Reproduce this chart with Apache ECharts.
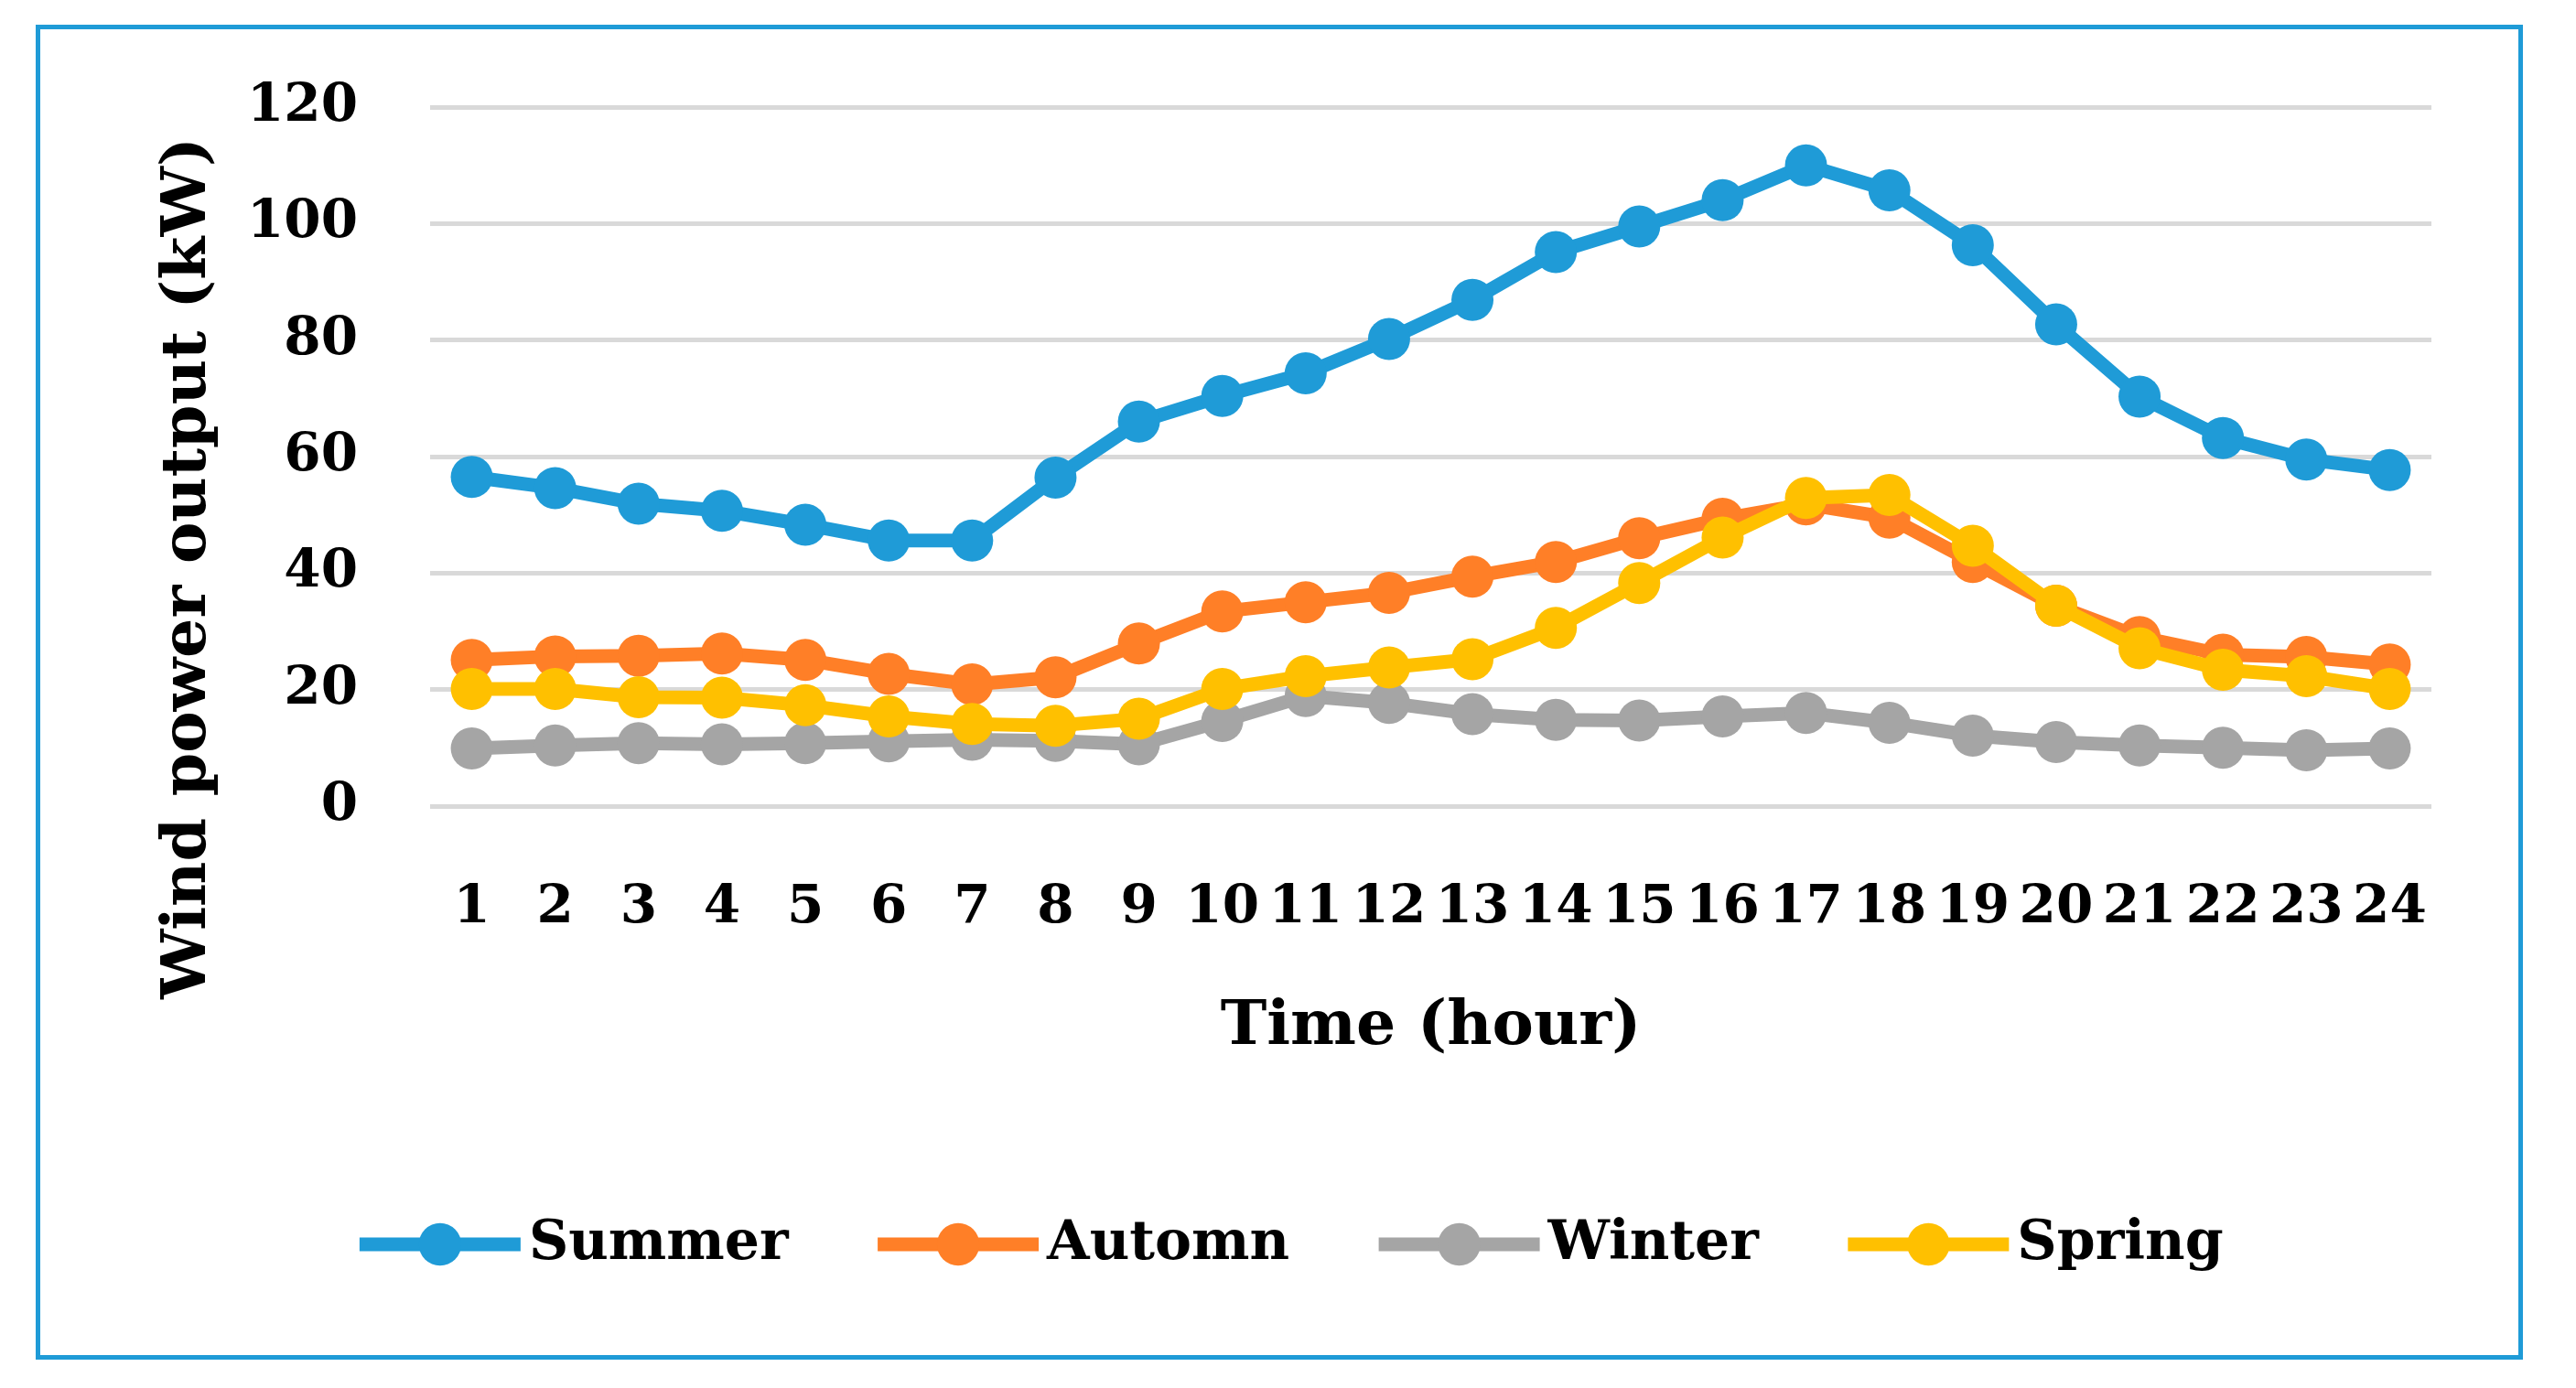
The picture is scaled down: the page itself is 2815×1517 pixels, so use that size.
<!DOCTYPE html>
<html>
<head>
<meta charset="utf-8">
<script src="https://cdn.jsdelivr.net/npm/echarts@6/dist/echarts.min.js"></script>
<style>
html,body{margin:0;padding:0;background:#fff;}
#chart{width:2815px;height:1517px;}
</style>
</head>
<body>
<div id="chart"></div>
<script>
const hours = ['1','2','3','4','5','6','7','8','9','10','11','12','13','14','15','16','17','18','19','20','21','22','23','24'];
const summer = [56.5,54.6,51.9,50.7,48.3,45.6,45.6,56.4,66.0,70.4,74.3,80.2,86.9,95.1,99.5,104.0,110.0,105.7,96.3,82.7,70.3,63.2,59.5,57.7];
const automn = [25.1,25.7,25.8,26.2,25.1,22.7,20.9,22.1,27.9,33.4,35.0,36.6,39.4,41.9,46.0,49.3,51.8,49.5,41.9,34.4,29.0,26.0,25.6,24.3];
const winter = [9.9,10.4,10.8,10.6,10.8,11.1,11.4,11.2,10.6,14.6,18.9,17.7,15.8,14.8,14.7,15.4,16.0,14.3,12.1,11.0,10.4,10.0,9.6,9.9];
const spring = [20.1,20.1,18.7,18.6,17.3,15.4,14.1,13.8,15.0,20.1,22.3,23.8,25.2,30.6,38.3,46.1,52.9,53.4,44.7,34.4,27.1,23.4,22.3,20.1];
const yTicks = [0,20,40,60,80,100,120];

const FONT = '"DejaVu Serif", serif';
const names = ['Summer','Automn','Winter','Spring'];
const colors = ['#1F9BD7','#FF7F27','#A5A5A5','#FFC000'];
const datas = [summer, automn, winter, spring];

const chart = echarts.init(document.getElementById('chart'));
chart.setOption({
  animation: false,
  backgroundColor: '#fff',
  graphic: [{
    type: 'rect', left: 39, top: 27,
    shape: {width: 2713, height: 1454},
    style: {fill: 'none', stroke: '#1F9BD7', lineWidth: 5}
  }, {
    type: 'text', x: 206, y: 621, rotation: Math.PI / 2,
    style: {text: 'Wind power output (kW)', fontFamily: FONT, fontWeight: 'bold', fontSize: 68,
      fill: '#000', textAlign: 'center', textVerticalAlign: 'middle'}
  }],
  grid: {left: 470, right: 158, top: 117, bottom: 636, containLabel: false},
  legend: {
    bottom: 122, left: 'center',
    itemWidth: 176, itemHeight: 58, itemGap: 90,
    lineStyle: {width: 15},
    textStyle: {fontFamily: FONT, fontWeight: 'bold', fontSize: 60, color: '#000', padding: [0,0,0,4]},
    data: names
  },
  xAxis: {
    type: 'category', data: hours, boundaryGap: true,
    axisLine: {show: false}, axisTick: {show: false},
    axisLabel: {margin: 83, fontFamily: FONT, fontWeight: 'bold', fontSize: 58, color: '#000', interval: 0},
    name: 'Time (hour)', nameLocation: 'middle', nameGap: 208,
    nameTextStyle: {fontFamily: FONT, fontWeight: 'bold', fontSize: 68, color: '#000', verticalAlign: 'top'}
  },
  yAxis: {
    type: 'value', min: 0, max: 120, interval: 20,
    axisLine: {show: false}, axisTick: {show: false},
    splitLine: {lineStyle: {color: '#D9D9D9', width: 5}},
    axisLabel: {margin: 79, fontFamily: FONT, fontWeight: 'bold', fontSize: 58, color: '#000',
      formatter: v => yTicks.includes(v) ? String(v) : ''}
  },
  series: datas.map((d, i) => ({
    name: names[i], type: 'line', data: d,
    symbol: 'circle', symbolSize: 46,
    lineStyle: {color: colors[i], width: 15},
    itemStyle: {color: colors[i]},
    z: i === 3 ? 5 : 4 - i
  }))
});
</script>
</body>
</html>
